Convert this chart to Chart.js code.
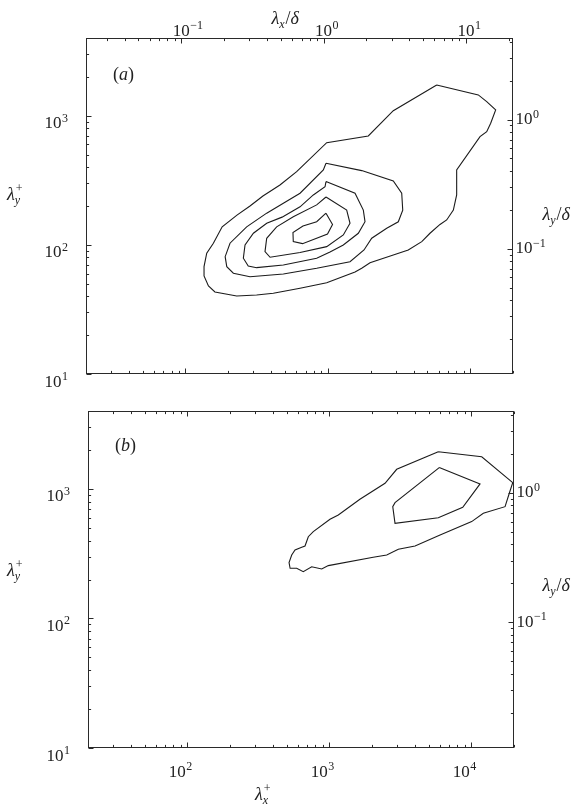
<!DOCTYPE html>
<html>
<head>
<meta charset="utf-8">
<script src="https://cdn.jsdelivr.net/npm/chart.js@4.4.1/dist/chart.umd.min.js"></script>
<style>
  html, body { margin: 0; padding: 0; background: #fff; }
  #wrap { position: relative; width: 580px; height: 812px; }
  canvas { position: absolute; left: 0; }
</style>
</head>
<body>
<div id="wrap">
  <canvas id="panelA" width="580" height="390" style="top:0"></canvas>
  <canvas id="panelB" width="580" height="422" style="top:390px"></canvas>
</div>
<script>
// Outer-scale reference: delta in wall units
const DELTA_PLUS = 934;
const LX_PLUS_RANGE = [20, 20000];
const LY_PLUS_RANGE = [10, 4000];

// Panel (a): contour levels, outermost first; each point is [lambda_x+, lambda_y+]
const contourA1 = [[5820,1730],[11410,1449],[13070,1286],[15110,1109],[13940,875],[13070,753],[11730,689],
  [8040,380],[8040,244],[7620,186],[6840,156],[6140,144],[5220,123],[4570,106],[3675,91.3],[2884,83.5],
  [1979,72.8],[1730,65.9],[1553,61.7],[982,50.9],[638,46.1],[414,42.2],[316,40.9],[229,40.2],[161,43.2],
  [145,48.1],[135,57.4],[135,67.8],[141,86.1],[157,103],[181,138],[230,170],[284,200],[350,239],[461,291],
  [604,369],[982,619],[1925,697],[2884,1095]];
const contourA2 = [[971,429],[1730,376],[2884,313],[3305,251],[3360,186],[3128,151],[2593,134.5],[2034,112.5],
  [1796,91.3],[1432,74.1],[835,65.9],[487,59.5],[284,56.7],[217,60.3],[195,67.8],[190,81],[205.5,103],
  [269,138],[372,176],[487,210],[638,251],[930,380]];
const contourA3 = [[971,309],[1553,251],[1776,186],[1825,151],[1638,123],[1285,99.8],[1036,88.1],[835,78.8],
  [487,69.9],[316,66.6],[276,68.6],[255,78.8],[262,99.8],[300,123],[372,147],[477,164],[638,197],[791,243.5],[956,282]];
const contourA4 = [[971,235],[1357,186],[1432,147],[1285,119.3],[982,96.9],[638,87.3],[393,80.2],[362,88.6],
  [372,112.5],[437,138],[572,165],[835,204]];
const contourA5 = [[971,176],[1079,144],[995,121.5],[664,102.2],[572,105.9],[569,124.7],[669,140],[835,151]];

// Panel (b): contour levels
const contourB1 = [[5860,1941],[11850,1774],[19590,1119],[18530,927],[17300,730],[12160,649],[10070,560],
  [6030,442],[4020,363],[3065,342],[2540,309],[2040,297],[985,256],[885,241],[752,251],[656,230],[590,244],
  [530,244],[521,270],[544,309],[574,338],[640,355],[675,363],[712,428],[772,468],[1012,583],[1158,630],
  [1644,832],[2470,1107],[2985,1419]];
const contourB2 = [[5950,1462],[11530,1094],[8710,722],[5860,600],[2905,543],[2800,730],[2905,784]];

const SERIF = '"Liberation Serif", "DejaVu Serif", serif';
const TXT = '#222';
const LINE = '#1b1b1b';
const FONT_MAIN = 17, FONT_SUP = 12;
const MAJOR_LEN = 5, MINOR_LEN = 2.6;

function fnt(size, italic) { return (italic ? 'italic ' : '') + size + 'px ' + SERIF; }

function decadeTicks(min, max) {
  const major = [], minor = [];
  for (let e = Math.floor(Math.log10(min)); e <= Math.ceil(Math.log10(max)); e++) {
    for (let k = 1; k <= 9; k++) {
      const v = k * Math.pow(10, e);
      if (v < min * 0.9999 || v > max * 1.0001) continue;
      (k === 1 ? major : minor).push(v);
    }
  }
  return { major, minor };
}

function expText(v) {
  const e = Math.round(Math.log10(v));
  return e < 0 ? '\u2212' + (-e) : String(e);
}

// "10" with a raised exponent
function drawPower(ctx, v, x, base, mode) {
  const exp = expText(v);
  ctx.font = fnt(FONT_MAIN); const w10 = ctx.measureText('10').width;
  ctx.font = fnt(FONT_SUP); const we = ctx.measureText(exp).width;
  let left;
  if (mode === 'right') left = x - w10 - 0.5 - we;
  else if (mode === 'center10') left = x - w10 / 2;
  else left = x;
  ctx.font = fnt(FONT_MAIN); ctx.fillText('10', left, base);
  ctx.font = fnt(FONT_SUP); ctx.fillText(exp, left + w10 + 0.5, base - 6.5);
}

function drawRuns(ctx, x, y, runs) {
  let cx = x;
  runs.forEach(r => {
    ctx.font = fnt(r.size, r.it);
    ctx.fillText(r.t, cx + (r.dx || 0), y + (r.dy || 0));
    if (!r.stay) cx += ctx.measureText(r.t).width + (r.dx || 0);
  });
}

// Frame, inward ticks on all four sides, power-of-ten labels and axis titles
const axesFrame = {
  id: 'axesFrame',
  afterDraw(chart, args, opts) {
    const { ctx, chartArea: a, scales } = chart;
    ctx.save();
    ctx.textAlign = 'left';
    ctx.textBaseline = 'alphabetic';
    ctx.strokeStyle = '#2a2a2a';
    ctx.lineWidth = 1;
    const L = Math.round(a.left) + 0.5, R = Math.round(a.right) - 0.5;
    const T = Math.round(a.top) + 0.5, B = Math.round(a.bottom) - 0.5;
    ctx.strokeRect(L, T, R - L, B - T);

    opts.sides.forEach(s => {
      const horiz = s.edge === 'top' || s.edge === 'bottom';
      const scale = horiz ? scales.x : scales.y;
      const range = horiz ? LX_PLUS_RANGE : LY_PLUS_RANGE;
      const t = decadeTicks(range[0] / s.factor, range[1] / s.factor);
      const pix = v => Math.round(scale.getPixelForValue(v * s.factor)) + 0.5;
      ctx.beginPath();
      [[t.major, MAJOR_LEN], [t.minor, MINOR_LEN]].forEach(([vals, len]) => {
        vals.forEach(v => {
          const p = pix(v);
          if (s.edge === 'bottom') { ctx.moveTo(p, B); ctx.lineTo(p, B - len); }
          if (s.edge === 'top')    { ctx.moveTo(p, T); ctx.lineTo(p, T + len); }
          if (s.edge === 'left')   { ctx.moveTo(L, p); ctx.lineTo(L + len, p); }
          if (s.edge === 'right')  { ctx.moveTo(R, p); ctx.lineTo(R - len, p); }
        });
      });
      ctx.stroke();
      if (!s.labels) return;
      ctx.fillStyle = TXT;
      t.major.forEach(v => {
        const p = scale.getPixelForValue(v * s.factor);
        if (s.edge === 'left')   drawPower(ctx, v, a.left - 18, p + 12.5, 'right');
        if (s.edge === 'right')  drawPower(ctx, v, a.right + 2.5, p + 4.5, 'left');
        if (s.edge === 'top')    drawPower(ctx, v, p, a.top - 2.5, 'center10');
        if (s.edge === 'bottom') drawPower(ctx, v, p - 10, a.bottom + 28.7, 'center10');
      });
    });

    ctx.fillStyle = TXT;
    (opts.titles || []).forEach(tt => drawRuns(ctx, tt.x, tt.y, tt.runs));
    ctx.restore();
  }
};

const LAM = { t: '\u03bb', size: 18, it: true };
const lamYPlus = [LAM, { t: '+', size: 12, dy: -8, dx: 1, stay: true }, { t: 'y', size: 12, it: true, dy: 3.5 }];
const lamXPlus = [LAM, { t: '+', size: 12, dy: -8, dx: 1, stay: true }, { t: 'x', size: 12, it: true, dy: 3.5 }];
const lamXDelta = [LAM, { t: 'x', size: 12, it: true, dy: 3.5 }, { t: '/', size: 18, dx: 1 }, { t: '\u03b4', size: 18, it: true }];
const lamYDelta = [LAM, { t: 'y', size: 12, it: true, dy: 3.5 }, { t: '/', size: 18, dx: 1 }, { t: '\u03b4', size: 18, it: true }];
const tag = letter => [{ t: '(', size: 18 }, { t: letter, size: 18, it: true }, { t: ')', size: 18 }];

function makePanel(id, contours, padding, sides, titles) {
  return new Chart(document.getElementById(id), {
    type: 'scatter',
    data: {
      datasets: contours.map(pts => ({
        data: pts.concat([pts[0]]).map(([x, y]) => ({ x, y })),
        showLine: true,
        borderColor: LINE,
        borderWidth: 1.1,
        pointRadius: 0,
        fill: false,
        tension: 0
      }))
    },
    options: {
      responsive: false,
      animation: false,
      devicePixelRatio: 1,
      layout: { padding },
      plugins: {
        legend: { display: false },
        tooltip: { enabled: false },
        axesFrame: { sides, titles }
      },
      scales: {
        x: { type: 'logarithmic', min: LX_PLUS_RANGE[0], max: LX_PLUS_RANGE[1], display: false },
        y: { type: 'logarithmic', min: LY_PLUS_RANGE[0], max: LY_PLUS_RANGE[1], display: false }
      }
    },
    plugins: [axesFrame]
  });
}

makePanel('panelA',
  [contourA1, contourA2, contourA3, contourA4, contourA5],
  { left: 86, right: 67, top: 38, bottom: 16 },
  [
    { edge: 'bottom', factor: 1, labels: false },
    { edge: 'top', factor: DELTA_PLUS, labels: true },
    { edge: 'left', factor: 1, labels: true },
    { edge: 'right', factor: DELTA_PLUS, labels: true }
  ],
  [
    { x: 271.5, y: 24, runs: lamXDelta },
    { x: 7, y: 200, runs: lamYPlus },
    { x: 542.5, y: 220, runs: lamYDelta },
    { x: 113, y: 79.5, runs: tag('a') }
  ]);

makePanel('panelB',
  [contourB1, contourB2],
  { left: 88, right: 66, top: 21, bottom: 64 },
  [
    { edge: 'bottom', factor: 1, labels: true },
    { edge: 'top', factor: 1, labels: false },
    { edge: 'left', factor: 1, labels: true },
    { edge: 'right', factor: DELTA_PLUS, labels: true }
  ],
  [
    { x: 7, y: 186, runs: lamYPlus },
    { x: 542.5, y: 201, runs: lamYDelta },
    { x: 255, y: 410, runs: lamXPlus },
    { x: 115, y: 61, runs: tag('b') }
  ]);
</script>
</body>
</html>
